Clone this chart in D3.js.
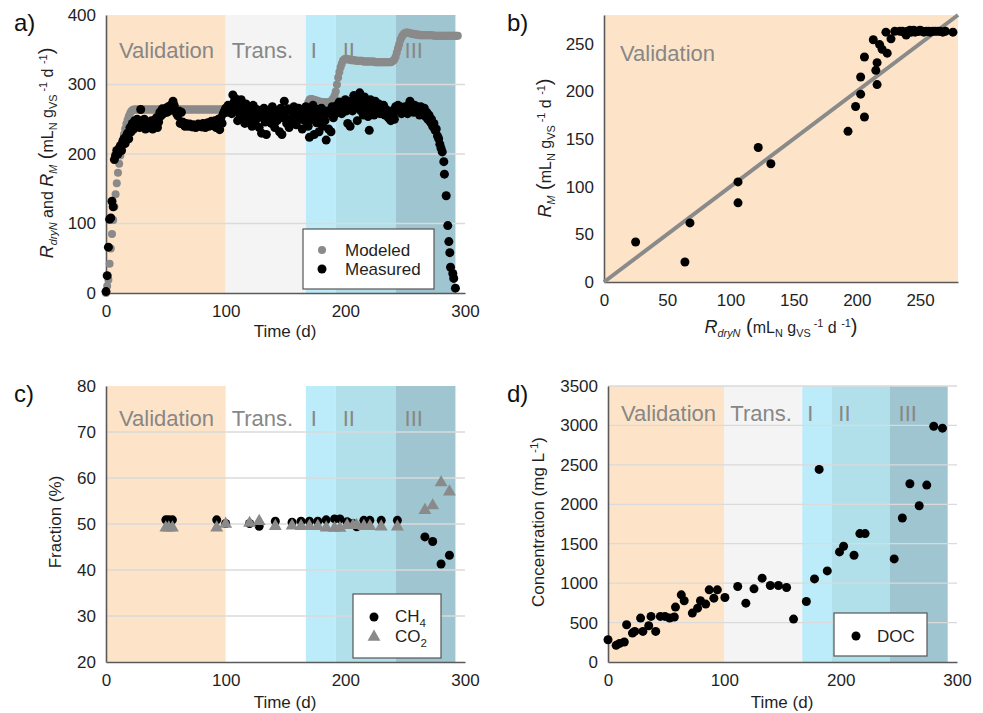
<!DOCTYPE html>
<html>
<head>
<meta charset="utf-8">
<script src="https://cdn.jsdelivr.net/npm/d3@7"></script>
<style>
  body { margin: 0; background: #fff; }
  svg { font-family: 'Liberation Sans', Arial, sans-serif; }
  text { white-space: pre; }
</style>
</head>
<body>
<div id="chart"></div>
<script>
// phases of the experiment (days)
const phaseNames = ['Validation', 'Trans.', 'I', 'II', 'III']
const phaseStart = [0, 100, 167, 192, 242]
const phaseEnd = [100, 167, 192, 242, 292]
const phaseColors = ['#fde4c8', '#f4f4f4', '#bcebfa', '#b1e0ea', '#9fc5d0']

// a) modeled rate, one value per day starting at day 0
const modeledRate = [
  0, 10, 19, 42, 64, 85, 105, 124, 142, 158, 173, 186, 198, 209, 219, 228, 236, 243, 249, 254, 258, 261, 263, 264,
  264, 264, 264, 264, 264, 264, 264, 264, 264, 264, 264, 264, 264, 264, 264, 264, 264, 264, 264, 264,
  264, 264, 264, 264, 264, 264, 264, 264, 264, 264, 264, 264, 264, 264, 264, 264, 264, 264, 264, 264,
  264, 264, 264, 264, 264, 264, 264, 264, 264, 264, 264, 264, 264, 264, 264, 264, 264, 264, 264, 264,
  264, 264, 264, 264, 264, 264, 264, 264, 264, 264, 264, 264, 264, 264, 264, 264,
  263, 263, 263, 263, 263, 263, 263, 263, 263, 263, 263, 263, 263, 263, 263, 263, 263, 263, 263, 263,
  263, 263, 263, 263, 263, 263, 263, 263, 263, 263, 263, 263, 263, 263, 263, 263, 263, 263, 263, 263,
  263, 263, 263, 263, 263, 263, 263, 263, 263, 263, 263, 263, 263, 263, 263, 263, 263, 263, 263, 263,
  263, 263, 263, 263, 263, 263, 263, 263,
  268, 274, 278, 279, 279, 278, 278, 277, 277, 276, 276, 275, 275, 275, 275, 274, 274, 274, 274, 275, 276, 278, 280,
  284, 290, 300, 310, 318, 325, 330, 334, 336, 337,
  337, 336, 336, 336, 335, 335, 335, 335, 334, 334, 334, 334, 334, 334, 333, 333, 333, 333, 333, 333,
  333, 333, 333, 333, 332, 332, 332, 332, 332, 332, 332, 332, 332, 332, 332, 332, 332, 332, 333, 334, 336,
  340, 346, 352, 358, 364, 368, 371, 373, 374, 375, 375,
  374, 374, 373, 373, 373, 372, 372, 372, 372, 371, 371, 371, 371, 371, 371, 371, 371, 371, 371, 371,
  371, 370, 370, 370, 370, 370, 370, 370, 370, 370, 370, 370, 370, 370, 370, 370, 370, 370, 370, 370,
  370, 370
]

// a) measured rate, one value per day from day 0 to day 280
const measuredRate = [
  2, 25, 66, 106, 108, 132, 124, 192, 198, 205,
  200, 208, 212, 205, 218, 222, 215, 226, 230, 222,
  238, 232, 244, 236, 248, 242, 250, 245, 238, 264,
  248, 242, 250, 236, 245, 240, 238, 244, 248, 236,
  240, 244, 252, 238, 246, 260, 255, 265, 258, 262,
  266, 260, 268, 262, 270, 265, 276, 270, 262, 258,
  255, 262, 244, 260, 246, 242, 240, 244, 242, 240,
  243, 241, 239, 242, 240, 238, 241, 243, 240, 242,
  239, 244, 241, 238, 242, 245, 240, 243, 247, 241,
  244, 248, 238, 246, 250, 235, 252, 244, 258, 262,
  266, 260, 270, 264, 268, 258, 285, 275, 280, 262,
  248, 270, 255, 278, 250, 265, 244, 272, 256, 248,
  268, 262, 240, 270, 255, 248, 264, 258, 238, 262,
  230, 252, 266, 246, 228, 258, 262, 250, 244, 268,
  255, 238, 262, 248, 258, 232, 266, 228, 252, 276,
  260, 244, 265, 238, 250, 262, 245, 268, 256, 242,
  260, 266, 250, 258, 236, 262, 248, 268, 258, 240,
  224, 262, 250, 270, 228, 256, 245, 264, 232, 252,
  266, 240, 256, 248, 220, 262, 236, 258, 232, 268,
  252, 262, 258, 270, 262, 275, 266, 258, 272, 264,
  278, 262, 244, 270, 240, 276, 262, 284, 268, 280,
  248, 270, 288, 262, 276, 256, 282, 265, 272, 254,
  234, 278, 264, 272, 256, 276, 268, 260, 272, 258,
  266, 262, 270, 256, 264, 260, 252, 258, 248, 262,
  254, 250, 268, 264, 270, 262, 268, 258, 264, 260,
  268, 262, 258, 270, 276, 272, 266, 260, 270, 264,
  268, 262, 256, 268, 262, 258, 266, 254, 260, 250,
  256, 246, 250, 240, 244, 234, 236, 226, 222, 214, 208
]
// a) final collapse, measured more often
const tailDay = [281, 282.3, 282.8, 284.3, 285.6, 286.5, 287.3, 287.9, 289.8, 290.6, 292]
const tailRate = [203, 189, 171, 140, 97, 74, 58, 37, 28, 21, 7]

// b) R_dryN vs R_M in the validation phase
const dryN = [25, 64, 68, 106, 106, 122, 132, 193, 199, 203, 203, 206, 206, 213, 215, 216, 216, 218, 220, 224, 223, 227, 230,
  234, 236, 238, 239, 240, 241, 242, 243, 244, 245, 246, 248, 249, 250, 252, 253, 255, 257, 258, 260, 262, 264, 266, 268, 270, 276]
const rM = [42, 21, 62, 105, 83, 141, 124, 158, 184, 197, 215, 173, 236, 254, 222, 230, 207, 249, 244, 240, 262, 255, 263,
  263, 263, 261, 259, 263, 262, 264, 262, 263, 264, 262, 263, 263, 264, 263, 262, 263, 263, 262, 263, 263, 263, 263, 262, 263, 262]

// c) gas composition
const gasDay = [50, 52.5, 55.5, 92.5, 100, 120, 128, 141.5, 155.5, 163, 170, 177, 184, 191, 195.5, 201.5, 206.5, 209.5,
  215.5, 220.5, 230, 243.5, 266.5, 273, 280, 287]
const ch4 = [50.9, 50.9, 50.9, 50.9, 50.1, 50.1, 49.5, 50.6, 50.4, 50.6, 50.6, 50.6, 50.9, 51.1, 51.1, 50.5, 50.1, 49.4,
  50.8, 50.8, 50.8, 50.8, 47.2, 46.2, 41.3, 43.2]
const co2 = [49.2, 49.2, 49.2, 49.2, 50.0, 50.2, 50.6, 49.5, 49.6, 49.5, 49.5, 49.5, 49.2, 49.1, 49.1, 49.7, 49.7, 49.7,
  49.5, 49.5, 49.4, 49.4, 53.0, 54.0, 59.0, 57.0]

// d) dissolved organic carbon
const docDay = [0, 7, 10, 14, 16, 21, 23, 28, 30, 35, 37, 41, 45, 49, 53, 57, 58, 63, 65.5, 72.5, 77, 79.5, 84, 87, 91, 94,
  100.5, 111.5, 118.5, 125.5, 132.5, 139.5, 146.5, 153.5, 159.5, 170.5, 177.5, 181.5, 188.5, 199, 202.5, 211.5, 216.5, 221,
  246, 253, 259.5, 267.5, 274, 280, 287.5]
const docConc = [282, 211, 236, 253, 472, 367, 388, 557, 388, 460, 578, 388, 578, 578, 557, 570, 696, 852, 776, 620, 683,
  776, 734, 915, 810, 915, 818, 957, 746, 928, 1063, 970, 970, 945, 544, 767, 1054, 2442, 1155, 1396, 1468, 1354, 1628,
  1628, 1307, 1826, 2260, 1982, 2243, 2990, 2965]

const width = 983
const height = 713
const svg = d3.select('#chart').append('svg')
  .attr('width', width)
  .attr('height', height)

const textDark = '#1f1f1f'
const phaseGrey = '#878787'
const fs = 17

// text with sub/superscripts built from tspans
const richText = (sel, parts, size) => {
  let shift = 0
  parts.forEach((p) => {
    const small = p.sub || p.sup
    const want = p.sub ? size * 0.28 : p.sup ? -size * 0.38 : 0
    sel.append('tspan')
      .attr('dy', want - shift)
      .attr('font-size', small ? size * 0.68 : (p.size || size))
      .attr('font-style', p.it ? 'italic' : null)
      .text(p.t)
    shift = want
  })
}

const makePanel = (o) => {
  const g = svg.append('g')
  const x = d3.scaleLinear().domain(o.xDomain).range([o.left, o.right])
  const y = d3.scaleLinear().domain(o.yDomain).range([o.bottom, o.top])

  // phase bands
  if (o.phases) {
    phaseNames.forEach((name, i) => {
      const fill = o.phaseFill[i]
      if (fill) {
        g.append('rect')
          .attr('x', x(phaseStart[i]))
          .attr('y', o.top)
          .attr('width', x(phaseEnd[i]) - x(phaseStart[i]))
          .attr('height', o.bottom - o.top)
          .attr('fill', fill)
      }
    })
  }

  // grid
  if (o.grid) {
    g.selectAll('.grid').data(o.gridTicks).join('line')
      .attr('x1', o.left).attr('x2', o.right)
      .attr('y1', (d) => y(d)).attr('y2', (d) => y(d))
      .attr('stroke', '#dadada').attr('stroke-width', 1.3)
  }

  if (o.phases) {
    const offs = [13, 6, 5, 7, 9]
    phaseNames.forEach((name, i) => {
      g.append('text')
        .attr('x', x(phaseStart[i]) + offs[i])
        .attr('y', o.top + o.labelDy)
        .attr('font-size', 22)
        .attr('fill', phaseGrey)
        .text(name)
    })
  }

  // axes
  const yAxis = g.append('g')
    .attr('transform', `translate(${o.left},0)`)
    .call(d3.axisLeft(y).tickValues(o.yTicks).tickFormat(d3.format('d')).tickSize(0).tickSizeOuter(0).tickPadding(10))
  const xAxis = g.append('g')
    .attr('transform', `translate(0,${o.bottom})`)
    .call(d3.axisBottom(x).tickValues(o.xTicks).tickFormat(d3.format('d')).tickSize(0).tickSizeOuter(0).tickPadding(12))
  ;[yAxis, xAxis].forEach((a) => {
    a.select('.domain').attr('stroke', '#5a5a5a').attr('stroke-width', 1.6)
    a.selectAll('text').attr('font-size', fs).attr('fill', textDark)
      .attr('font-family', "'Liberation Sans', Arial, sans-serif")
  })

  // panel letter
  g.append('text')
    .attr('x', o.letterX).attr('y', o.letterY)
    .attr('font-size', 24).attr('fill', '#111')
    .text(o.letter)

  return { g, x, y }
}

const legendBox = (g, x0, y0, w, h) => {
  g.append('rect')
    .attr('x', x0).attr('y', y0).attr('width', w).attr('height', h)
    .attr('fill', '#fff').attr('stroke', '#555').attr('stroke-width', 1.2)
}

// ---------- a) ----------
const pa = makePanel({
  left: 106, right: 465, top: 15, bottom: 293,
  xDomain: [0, 300], yDomain: [0, 400],
  xTicks: [0, 100, 200, 300], yTicks: [0, 100, 200, 300, 400], gridTicks: [100, 200, 300],
  phases: true, phaseFill: phaseColors, grid: true, labelDy: 43,
  letter: 'a)', letterX: 14, letterY: 31
})
pa.g.append('g').selectAll('circle').data(modeledRate).join('circle')
  .attr('cx', (d, i) => pa.x(i))
  .attr('cy', (d) => pa.y(d))
  .attr('r', 4)
  .attr('fill', '#8a8a8a')
pa.g.append('g').selectAll('circle').data(measuredRate).join('circle')
  .attr('cx', (d, i) => pa.x(i))
  .attr('cy', (d) => pa.y(d))
  .attr('r', 4.5)
  .attr('fill', '#000')
pa.g.append('g').selectAll('circle').data(tailRate).join('circle')
  .attr('cx', (d, i) => pa.x(tailDay[i]))
  .attr('cy', (d) => pa.y(d))
  .attr('r', 4.5)
  .attr('fill', '#000')

legendBox(pa.g, 303, 229, 131, 60)
pa.g.append('circle').attr('cx', 322).attr('cy', 250).attr('r', 4).attr('fill', '#8a8a8a')
pa.g.append('circle').attr('cx', 322).attr('cy', 269).attr('r', 4.5).attr('fill', '#000')
pa.g.append('text').attr('x', 345).attr('y', 256).attr('font-size', fs).attr('fill', textDark).text('Modeled')
pa.g.append('text').attr('x', 345).attr('y', 275).attr('font-size', fs).attr('fill', textDark).text('Measured')

pa.g.append('text').attr('x', 285).attr('y', 337).attr('text-anchor', 'middle')
  .attr('font-size', fs).attr('fill', textDark).text('Time (d)')

richText(pa.g.append('text')
  .attr('text-anchor', 'middle')
  .attr('transform', 'translate(53,153) rotate(-90)')
  .attr('fill', textDark), [
  { t: 'R', it: true, size: 18 }, { t: 'dryN', it: true, sub: true }, { t: ' and ' },
  { t: 'R', it: true, size: 18 }, { t: 'M', it: true, sub: true }, { t: ' (', size: 20 }, { t: 'mL' }, { t: 'N', sub: true },
  { t: ' g' }, { t: 'VS', sub: true }, { t: ' -1', sup: true }, { t: ' d ' }, { t: '-1', sup: true }, { t: ')', size: 20 }
], 16)

// ---------- b) ----------
const pb = makePanel({
  left: 604, right: 958, top: 15, bottom: 282,
  xDomain: [0, 280], yDomain: [0, 280],
  xTicks: [0, 50, 100, 150, 200, 250], yTicks: [0, 50, 100, 150, 200, 250],
  phases: false, grid: false,
  letter: 'b)', letterX: 507, letterY: 31
})
pb.g.insert('rect', ':first-child')
  .attr('x', pb.x(0)).attr('y', pb.y(280))
  .attr('width', pb.x(280) - pb.x(0)).attr('height', pb.y(0) - pb.y(280))
  .attr('fill', phaseColors[0])
pb.g.append('text').attr('x', 620).attr('y', 61).attr('font-size', 22).attr('fill', phaseGrey).text('Validation')
pb.g.append('line')
  .attr('x1', pb.x(0)).attr('y1', pb.y(0))
  .attr('x2', pb.x(280)).attr('y2', pb.y(280))
  .attr('stroke', '#8a8a8a').attr('stroke-width', 4)
pb.g.append('g').selectAll('circle').data(rM).join('circle')
  .attr('cx', (d, i) => pb.x(dryN[i]))
  .attr('cy', (d) => pb.y(d))
  .attr('r', 4.5)
  .attr('fill', '#000')
richText(pb.g.append('text')
  .attr('x', 781).attr('y', 333).attr('text-anchor', 'middle').attr('fill', textDark), [
  { t: 'R', it: true, size: 18 }, { t: 'dryN', it: true, sub: true }, { t: ' (', size: 20 }, { t: 'mL' }, { t: 'N', sub: true },
  { t: ' g' }, { t: 'VS', sub: true }, { t: ' -1', sup: true }, { t: ' d ' }, { t: '-1', sup: true }, { t: ')', size: 20 }
], 16)
richText(pb.g.append('text')
  .attr('text-anchor', 'middle')
  .attr('transform', 'translate(551,148) rotate(-90)')
  .attr('fill', textDark), [
  { t: 'R', it: true, size: 18 }, { t: 'M', it: true, sub: true }, { t: ' (', size: 20 }, { t: 'mL' }, { t: 'N', sub: true },
  { t: ' g' }, { t: 'VS', sub: true }, { t: ' -1', sup: true }, { t: ' d ' }, { t: '-1', sup: true }, { t: ')', size: 20 }
], 16)

// ---------- c) ----------
const pc = makePanel({
  left: 106, right: 465, top: 386, bottom: 662,
  xDomain: [0, 300], yDomain: [20, 80],
  xTicks: [0, 100, 200, 300], yTicks: [20, 30, 40, 50, 60, 70, 80], gridTicks: [30, 40, 50, 60, 70],
  phases: true, phaseFill: [phaseColors[0], null, phaseColors[2], phaseColors[3], phaseColors[4]], grid: true, labelDy: 40,
  letter: 'c)', letterX: 14, letterY: 402
})
const tri = d3.symbol().type(d3.symbolTriangle).size(72)
pc.g.append('g').selectAll('circle').data(ch4).join('circle')
  .attr('cx', (d, i) => pc.x(gasDay[i]))
  .attr('cy', (d) => pc.y(d))
  .attr('r', 4.5)
  .attr('fill', '#000')
pc.g.append('g').selectAll('path').data(co2).join('path')
  .attr('d', tri)
  .attr('transform', (d, i) => `translate(${pc.x(gasDay[i])},${pc.y(d)})`)
  .attr('fill', '#8a8a8a')
legendBox(pc.g, 353, 594, 88, 64)
pc.g.append('circle').attr('cx', 374).attr('cy', 617).attr('r', 4.5).attr('fill', '#000')
pc.g.append('path').attr('d', tri).attr('transform', 'translate(374,637)').attr('fill', '#8a8a8a')
richText(pc.g.append('text').attr('x', 395).attr('y', 622).attr('fill', textDark), [{ t: 'CH' }, { t: '4', sub: true }], fs)
richText(pc.g.append('text').attr('x', 395).attr('y', 642).attr('fill', textDark), [{ t: 'CO' }, { t: '2', sub: true }], fs)
pc.g.append('text').attr('x', 285).attr('y', 708).attr('text-anchor', 'middle')
  .attr('font-size', fs).attr('fill', textDark).text('Time (d)')
pc.g.append('text').attr('text-anchor', 'middle')
  .attr('transform', 'translate(61,522) rotate(-90)')
  .attr('font-size', fs).attr('fill', textDark).text('Fraction (%)')

// ---------- d) ----------
const pd = makePanel({
  left: 608, right: 957, top: 386, bottom: 662,
  xDomain: [0, 300], yDomain: [0, 3500],
  xTicks: [0, 100, 200, 300], yTicks: [0, 500, 1000, 1500, 2000, 2500, 3000, 3500],
  gridTicks: [500, 1000, 1500, 2000, 2500, 3000, 3500],
  phases: true, phaseFill: phaseColors, grid: true, labelDy: 35,
  letter: 'd)', letterX: 507, letterY: 402
})
pd.g.append('g').selectAll('circle').data(docConc).join('circle')
  .attr('cx', (d, i) => pd.x(docDay[i]))
  .attr('cy', (d) => pd.y(d))
  .attr('r', 4.5)
  .attr('fill', '#000')
legendBox(pd.g, 834, 613, 93, 43)
pd.g.append('circle').attr('cx', 856).attr('cy', 636).attr('r', 4.5).attr('fill', '#000')
pd.g.append('text').attr('x', 877).attr('y', 642).attr('font-size', fs).attr('fill', textDark).text('DOC')
pd.g.append('text').attr('x', 782).attr('y', 708).attr('text-anchor', 'middle')
  .attr('font-size', fs).attr('fill', textDark).text('Time (d)')
richText(pd.g.append('text').attr('text-anchor', 'middle')
  .attr('transform', 'translate(544,522) rotate(-90)')
  .attr('fill', textDark), [{ t: 'Concentration (mg L' }, { t: '-1', sup: true }, { t: ')' }], fs)
</script>
</body>
</html>
